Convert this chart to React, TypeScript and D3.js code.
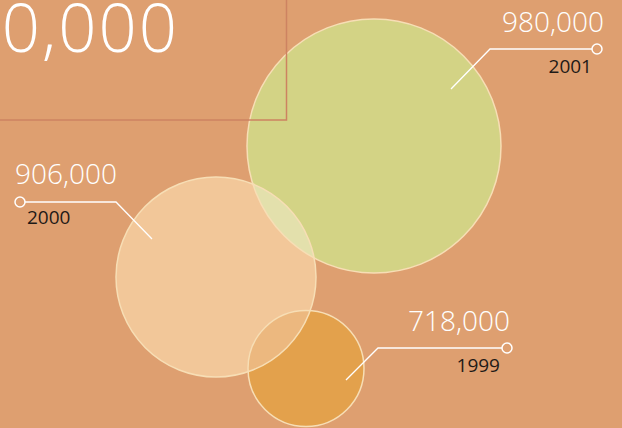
import React from "react";
import * as d3 from "d3";

const years = ["1999", "2000", "2001"];
const values = [718000, 906000, 980000];
const valueLabels = ["718,000", "906,000", "980,000"];
const headline = "850,000";

const W = 622;
const H = 428;

// layout (positions of bubbles and callouts)
const layout: Record<string, any> = {
  "2001": { cx: 374, cy: 146, fill: "#D3D385", elbow: [490, 49], diag: [-39, 40], end: [597, 49], side: "right", valueX: 604, valueY: 32, yearX: 592, yearY: 73 },
  "2000": { cx: 216, cy: 277, fill: "#F2C799", elbow: [116, 202], diag: [36, 37], end: [20, 202], side: "left", valueX: 15, valueY: 184, yearX: 27, yearY: 224 },
  "1999": { cx: 306, cy: 368.5, fill: "#E3A14C", elbow: [378, 348], diag: [-32, 32], end: [507, 348], side: "right", valueX: 510, valueY: 331, yearX: 500, yearY: 372 },
};

const rScale = d3.scaleLinear().domain([718000, 906000, 980000]).range([58, 100, 127]);

export default function App() {
  const nodes = years.map((y, i) => {
    const L = layout[y];
    const r = rScale(values[i]);
    const sx = L.elbow[0] + L.diag[0];
    const sy = L.elbow[1] + L.diag[1];
    return { year: y, value: values[i], label: valueLabels[i], r, sx, sy, ...L };
  });
  const byYear = (y: string) => nodes.find((n) => n.year === y)!;
  const n99 = byYear("1999"), n00 = byYear("2000"), n01 = byYear("2001");
  const font = "'Open Sans', 'Segoe UI', sans-serif";
  const line = d3.line();

  return (
    <svg width={W} height={H} style={{ position: "absolute", left: 0, top: 0, display: "block" }}>
      <defs>
        <clipPath id="clip2000"><circle cx={n00.cx} cy={n00.cy} r={n00.r} /></clipPath>
      </defs>
      <rect x={0} y={0} width={W} height={H} fill="#DE9F70" />
      {[n01, n00, n99].map((n) => (
        <circle key={"f" + n.year} cx={n.cx} cy={n.cy} r={n.r} fill={n.fill} />
      ))}
      <g clipPath="url(#clip2000)">
        <circle cx={n01.cx} cy={n01.cy} r={n01.r} fill="#E3E0AC" />
        <circle cx={n99.cx} cy={n99.cy} r={n99.r} fill="#ECB87F" />
      </g>
      {[n01, n00, n99].map((n) => (
        <circle key={"s" + n.year} cx={n.cx} cy={n.cy} r={n.r} fill="none" stroke="#F7DEB5" strokeWidth={1.5} />
      ))}
      <rect x={-10} y={-10} width={296.5} height={130} fill="none" stroke="#CD8361" strokeWidth={1.5} />
      <text x={179} y={52} textAnchor="end" fill="#FFFFFF" fontFamily={font} fontWeight={300} fontSize={67} letterSpacing={2}>{headline}</text>
      {nodes.map((n) => (
        <g key={"c" + n.year}>
          <path d={line([[n.sx, n.sy], n.elbow, n.end])!} fill="none" stroke="#FFFFFF" strokeWidth={1.3} />
          <circle cx={n.end[0]} cy={n.end[1]} r={5} fill="#DE9F70" stroke="#FFFFFF" strokeWidth={1.5} />
          <text x={n.valueX} y={n.valueY} textAnchor={n.side === "right" ? "end" : "start"} fill="#FFFFFF" fontFamily={font} fontWeight={300} fontSize={28}>{n.label}</text>
          <text x={n.yearX} y={n.yearY} textAnchor={n.side === "right" ? "end" : "start"} fill="#1E1A17" fontFamily={font} fontSize={19}>{n.year}</text>
        </g>
      ))}
    </svg>
  );
}
